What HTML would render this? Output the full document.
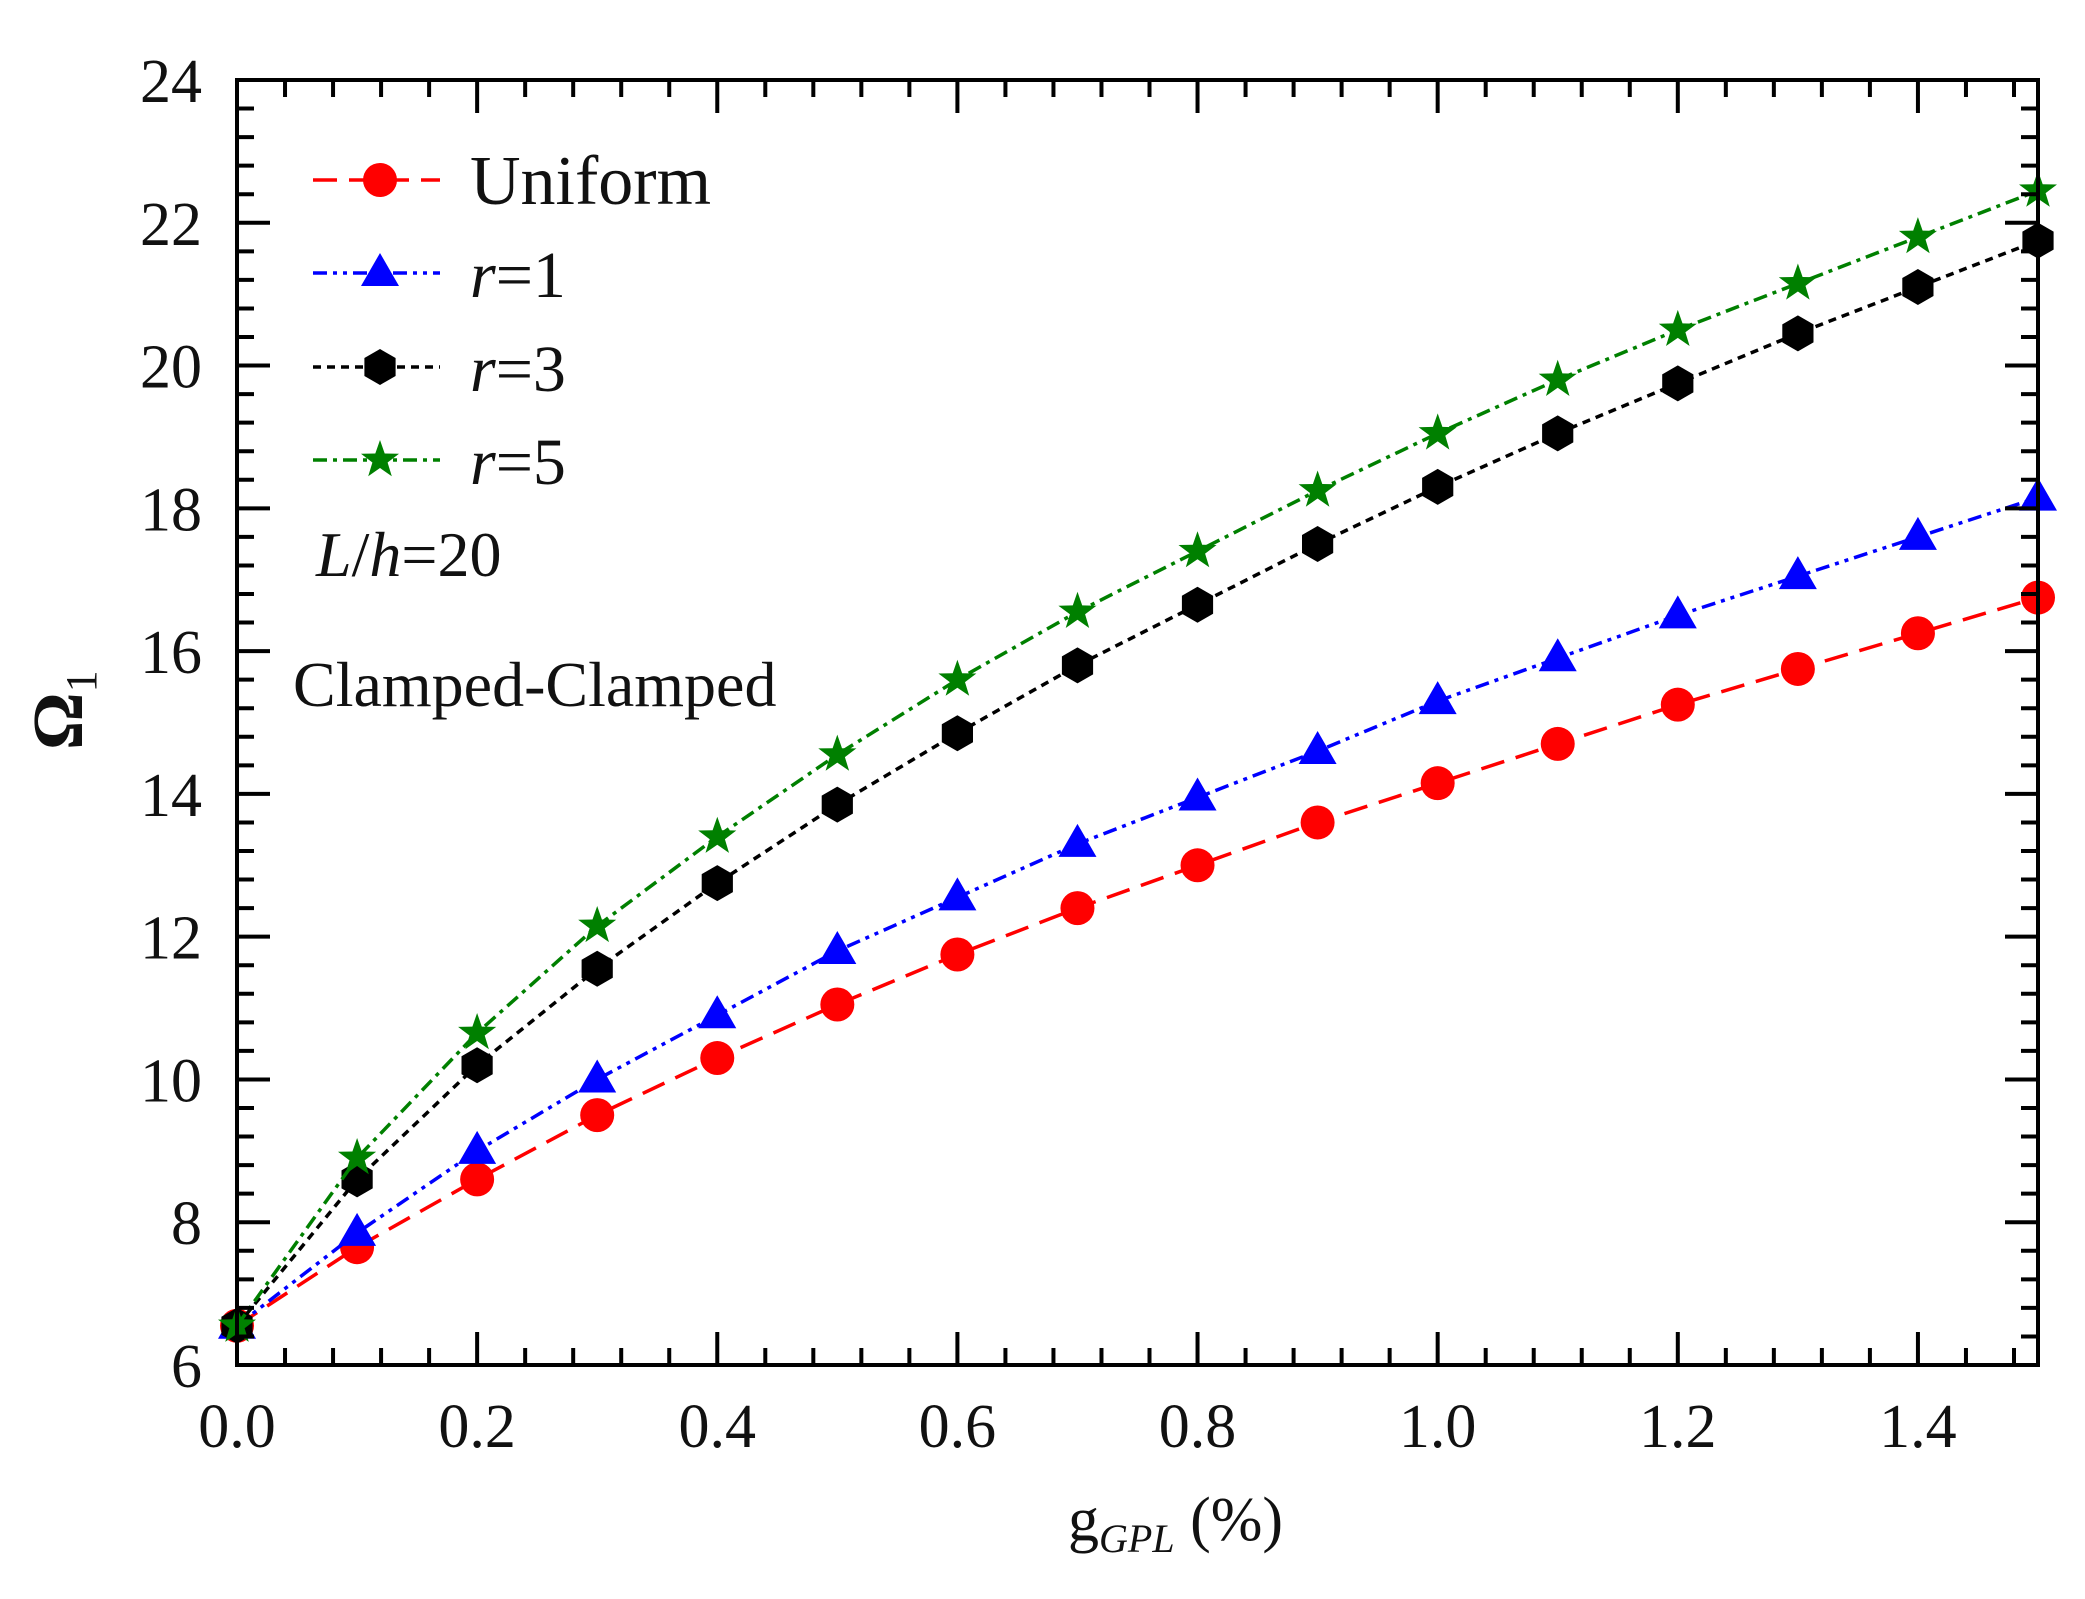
<!DOCTYPE html>
<html><head><meta charset="utf-8"><style>
html,body{margin:0;padding:0;background:#fff;}
svg{display:block;}
text{font-family:"Liberation Serif",serif;fill:#111;}
</style></head><body>
<svg id="s" width="2085" height="1599" viewBox="0 0 2085 1599" xmlns="http://www.w3.org/2000/svg"></svg>
<script>
const S=document.getElementById('s');const NS='http://www.w3.org/2000/svg';
function el(t,a,txt){const e=document.createElementNS(NS,t);for(const k in a)e.setAttribute(k,a[k]);if(txt!==undefined)e.textContent=txt;S.appendChild(e);return e;}
const L=237,R=2038,T=80,B=1365;
const X=v=>L+(v/1.5)*(R-L), Y=v=>B-(v-6)/18*(B-T);
const xs=[];for(let i=0;i<16;i++)xs.push(i*0.1);
const data={
u:[6.55,7.65,8.6,9.5,10.3,11.05,11.75,12.4,13.0,13.6,14.15,14.7,15.25,15.75,16.25,16.75],
r1:[6.55,7.85,9.0,10.0,10.9,11.8,12.55,13.3,13.95,14.6,15.3,15.9,16.5,17.05,17.6,18.15],
r3:[6.55,8.6,10.2,11.55,12.75,13.85,14.85,15.8,16.65,17.5,18.3,19.05,19.75,20.45,21.1,21.75],
r5:[6.55,8.9,10.65,12.15,13.4,14.55,15.6,16.55,17.4,18.25,19.05,19.8,20.5,21.15,21.8,22.45]};
const st={
u:{c:'#f00',d:'24 12',m:'c'},
r1:{c:'#00f',d:'14 6 4 6 4 6',m:'t'},
r3:{c:'#000',d:'8 6',m:'h'},
r5:{c:'#008000',d:'14 6 4 6',m:'s'}};
function marker(m,x,y,c){
 if(m==='c')el('circle',{cx:x,cy:y,r:17,fill:c});
 else if(m==='t'){el('polygon',{points:`${x},${y-20} ${x+19},${y+13} ${x-19},${y+13}`,fill:c});}
 else if(m==='h'){let p=[];for(let i=0;i<6;i++){const a=Math.PI/3*i+Math.PI/6;p.push((x+18*Math.cos(a)).toFixed(1)+','+(y+18*Math.sin(a)).toFixed(1));}el('polygon',{points:p.join(' '),fill:c});}
 else {let p=[];for(let i=0;i<10;i++){const r=i%2?8:20;const a=-Math.PI/2+i*Math.PI/5;p.push((x+r*Math.cos(a)).toFixed(1)+','+(y+r*Math.sin(a)).toFixed(1));}el('polygon',{points:p.join(' '),fill:c});}
}
for(const k in data){const s=st[k];
 const pts=xs.map((x,i)=>X(x).toFixed(1)+','+Y(data[k][i]).toFixed(1)).join(' ');
 el('polyline',{points:pts,fill:'none',stroke:s.c,'stroke-width':3.5,'stroke-dasharray':s.d});
 xs.forEach((x,i)=>marker(s.m,X(x),Y(data[k][i]),s.c));
}
el('rect',{x:L,y:T,width:R-L,height:B-T,fill:'none',stroke:'#000','stroke-width':4});
for(let i=0;i<=37;i++){const v=i*0.04;if(v>1.5001)break;const x=X(v);const maj=(i%5===0);const len=maj?33:17;
 el('line',{x1:x,y1:B,x2:x,y2:B-len,stroke:'#000','stroke-width':4});
 el('line',{x1:x,y1:T,x2:x,y2:T+len,stroke:'#000','stroke-width':4});
 if(maj)el('text',{x:x,y:1447,'font-size':62,'text-anchor':'middle'},v.toFixed(1));}
for(let i=0;i<=45;i++){const v=6+i*0.4;const y=Y(v);const maj=(i%5===0);const len=maj?33:17;
 el('line',{x1:L,y1:y,x2:L+len,y2:y,stroke:'#000','stroke-width':4});
 el('line',{x1:R,y1:y,x2:R-len,y2:y,stroke:'#000','stroke-width':4});
 if(maj)el('text',{x:202,y:y+22,'font-size':62,'text-anchor':'end'},String(Math.round(v)));}
const lg=[['u','Uniform',180],['r1',null,273],['r3',null,367],['r5',null,460]];
const lab={r1:'1',r3:'3',r5:'5'};
lg.forEach(([k,t,y])=>{const s=st[k];
 el('line',{x1:313,y1:y,x2:440,y2:y,stroke:s.c,'stroke-width':3.5,'stroke-dasharray':s.d});
 marker(s.m,380,y,s.c);
 if(t)el('text',{x:470,y:y+24,'font-size':70},t);
 else{const e=el('text',{x:470,y:y+24,'font-size':66});const a=document.createElementNS(NS,'tspan');a.setAttribute('font-style','italic');a.textContent='r';e.appendChild(a);e.appendChild(document.createTextNode('='+lab[k]));}
});
{const e=el('text',{x:316,y:576,'font-size':64});
 const a=document.createElementNS(NS,'tspan');a.setAttribute('font-style','italic');a.textContent='L';e.appendChild(a);
 e.appendChild(document.createTextNode('/'));
 const b=document.createElementNS(NS,'tspan');b.setAttribute('font-style','italic');b.textContent='h';e.appendChild(b);
 e.appendChild(document.createTextNode('=20'));}
el('text',{x:293,y:706,'font-size':64},'Clamped-Clamped');
{const e=el('text',{x:1068,y:1540,'font-size':62});e.appendChild(document.createTextNode('g'));
 const a=document.createElementNS(NS,'tspan');a.setAttribute('font-style','italic');a.setAttribute('font-size','40');a.setAttribute('dy','12');a.textContent='GPL';e.appendChild(a);
 const b=document.createElementNS(NS,'tspan');b.setAttribute('dy','-12');b.textContent=' (%)';e.appendChild(b);}
{const e=el('text',{x:0,y:0,'font-size':72,'font-weight':'bold',transform:'translate(82,750) rotate(-90)'});e.appendChild(document.createTextNode('Ω'));
 const a=document.createElementNS(NS,'tspan');a.setAttribute('font-size','44');a.setAttribute('dy','14');a.setAttribute('font-weight','normal');a.textContent='1';e.appendChild(a);}
</script>
</body></html>
